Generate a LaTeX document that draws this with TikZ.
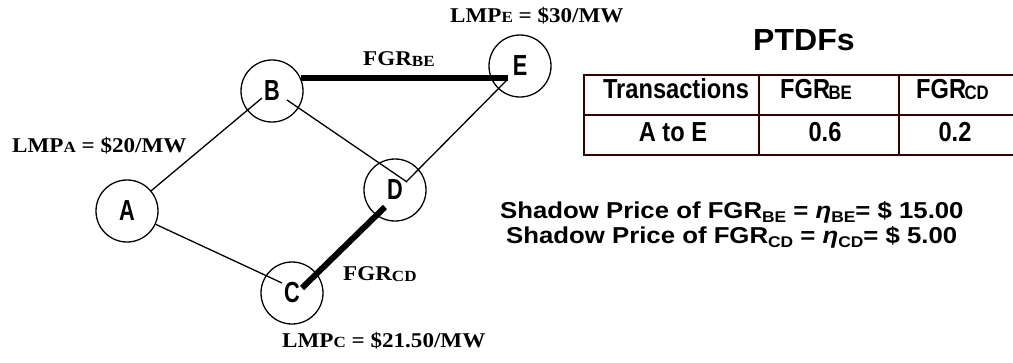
\documentclass[tikz,border=0pt]{standalone}
\usepackage{fontspec}
\setmainfont{Liberation Serif}
\newfontfamily\labfont[FakeStretch=1.1]{Liberation Serif}
\newfontfamily\shfont[FakeStretch=1.12]{Liberation Sans}
\newfontfamily\ndfont[FakeStretch=0.75]{Liberation Sans}
\newfontfamily\tbfont[FakeStretch=0.86]{Liberation Sans}
\newfontfamily\ttlfont[FakeStretch=1.05]{Liberation Sans}
\usetikzlibrary{calc}
\definecolor{tabline}{RGB}{55,0,0}
\newcommand\labsm[1]{{\fontsize{15.5}{16}\selectfont #1}}
\newcommand\labsub[1]{\raisebox{-1.5pt}{\fontsize{15.5}{16}\selectfont #1}}
\newcommand\tbsub[1]{\kern-1.5pt\raisebox{-1.5pt}{\fontsize{19.5}{19.5}\selectfont #1}}
\newcommand\shsub[1]{\raisebox{-4pt}{\fontsize{15.5}{15.5}\selectfont #1}}
\begin{document}
\begin{tikzpicture}[x=1pt,y=-1pt,
  bus/.style={circle, draw, line width=1.3pt, minimum size=62pt, inner sep=0pt,
    font={\ndfont\bfseries\fontsize{29}{29}\selectfont}},
  thinline/.style={line width=1.3pt},
  heavyline/.style={line width=6pt},
  lab/.style={anchor=base west, inner sep=0pt,
    font={\labfont\bfseries\fontsize{21}{21}\selectfont}},
  tline/.style={draw=tabline, line width=2.4pt},
  tb/.style={inner sep=0pt, font={\tbfont\bfseries\fontsize{27.5}{27.5}\selectfont}},
  sh/.style={anchor=base west, inner sep=0pt, font={\shfont\bfseries\fontsize{23}{23}\selectfont}},
  ttl/.style={anchor=base west, inner sep=0pt, font={\ttlfont\bfseries\fontsize{30.5}{30.5}\selectfont}}
]
\useasboundingbox (0,0) rectangle (1013,362);

% buses
\node[bus] (A) at (127,211) {A};
\node[bus] (B) at (272,91) {B};
\node[bus] (E) at (520,66) {E};
\node[bus] (D) at (395,190) {D};
\node[bus] (C) at (292,293) {C};

% lines
\draw[thinline] (A) -- ($(B)+(-10,7)$);
\draw[thinline] (A) -- ($(C)+(-10,-10)$);
\draw[thinline] ($(B)+(15,9)$) -- ($(D)+(12,-8)$);
\draw[thinline] ($(E)+(-13,14)$) -- ($(D)+(11,-8)$);
\draw[heavyline] ($(B)+(29,-13)$) -- ($(E)+(-12,12)$);
\draw[heavyline] ($(C)+(10,-5)$) -- ($(D)+(-10,17)$);

% labels
\node[lab] (lmpa) at (12,152) {LMP\labsm{A} = \$20/MW};
\node[lab] (lmpe) at (450,22) {LMP\labsm{E} = \$30/MW};
\node[lab] (lmpc) at (282,347) {LMP\labsm{C} = \$21.50/MW};
\node[lab] (fgrbe) at (363,65) {FGR\labsub{BE}};
\node[lab] (fgrcd) at (343,280) {FGR\labsub{CD}};

% PTDF table
\node[ttl] (ptdf) at (753,50) {PTDFs};
\draw[tline] (1013,75) -- (584,75) -- (584,155) -- (1013,155);
\draw[tline] (584,115) -- (1013,115);
\draw[tline] (759,75) -- (759,155);
\draw[tline] (899,75) -- (899,155);
\node[tb, anchor=base] (t11) at (676,98) {Transactions};
\node[tb, anchor=base west] (t12) at (780,98) {FGR\tbsub{BE}};
\node[tb, anchor=base west] (t13) at (916,98) {FGR\tbsub{CD}};
\node[tb, anchor=base] (t21) at (673,141) {A to E};
\node[tb, anchor=base] (t22) at (825,141) {0.6};
\node[tb, anchor=base] (t23) at (955,141) {0.2};

% shadow prices
\node[sh] (sp1) at (500,218) {Shadow Price of FGR\shsub{BE} = {\itshape η}\shsub{BE}= \$ 15.00};
\node[sh] (sp2) at (506,243) {Shadow Price of FGR\shsub{CD} = {\itshape η}\shsub{CD}= \$ 5.00};
\end{tikzpicture}
\end{document}
